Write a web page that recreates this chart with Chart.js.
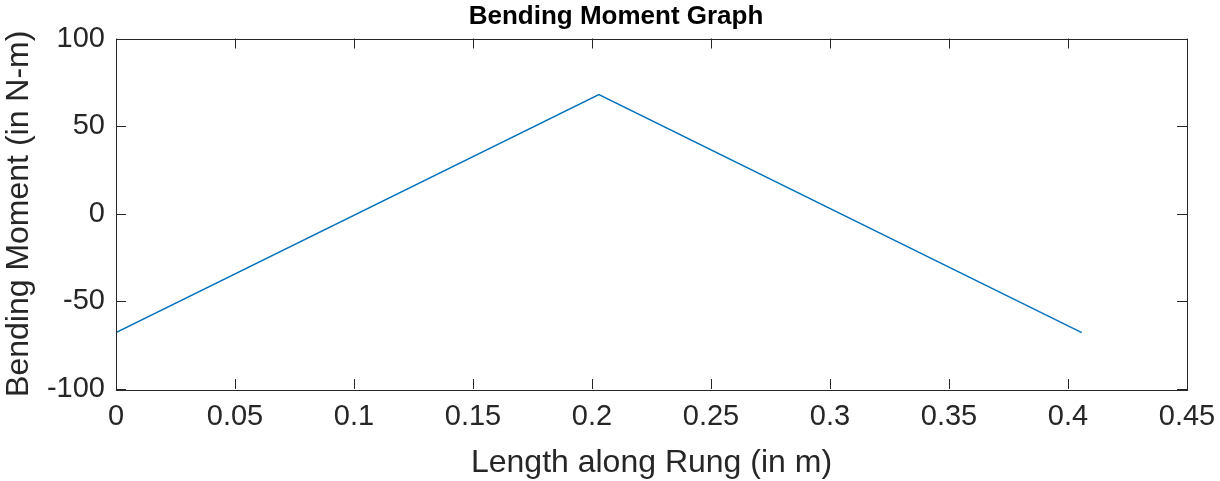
<!DOCTYPE html>
<html>
<head>
<meta charset="utf-8">
<script src="https://cdn.jsdelivr.net/npm/chart.js@4"></script>
<style>
  html, body { margin: 0; padding: 0; background: #fff; }
  #wrap { width: 1220px; height: 481px; }
</style>
</head>
<body>
<div id="wrap"><canvas id="chart" width="1220" height="481"></canvas></div>
<script>
// data
const lengthPts = [0, 0.2029, 0.4058];
const momentPts = [-67.8, 68.0, -67.8];
const xTicks = [0, 0.05, 0.1, 0.15, 0.2, 0.25, 0.3, 0.35, 0.4, 0.45];
const yTicks = [-100, -50, 0, 50, 100];

const axisColor = "#262626";
const fontFam = "'Liberation Sans', Arial, Helvetica, sans-serif";

// box round the plot with inward ticks on all four sides (matlab style)
const boxPlugin = {
  id: "box",
  afterDraw(chart) {
    const ctx = chart.ctx;
    const a = chart.chartArea;
    const xs = chart.scales.x, ys = chart.scales.y;
    const tl = 10;
    ctx.save();
    ctx.strokeStyle = axisColor;
    ctx.lineWidth = 1;
    ctx.strokeRect(Math.round(a.left) + 0.5, Math.round(a.top) + 0.5,
                   Math.round(a.right - a.left), Math.round(a.bottom - a.top));
    ctx.beginPath();
    xTicks.forEach(v => {
      const px = Math.round(xs.getPixelForValue(v)) + 0.5;
      ctx.moveTo(px, a.bottom); ctx.lineTo(px, a.bottom - tl);
      ctx.moveTo(px, a.top); ctx.lineTo(px, a.top + tl);
    });
    yTicks.forEach(v => {
      const py = Math.round(ys.getPixelForValue(v)) + 0.5;
      ctx.moveTo(a.left, py); ctx.lineTo(a.left + tl, py);
      ctx.moveTo(a.right, py); ctx.lineTo(a.right - tl, py);
    });
    ctx.stroke();
    ctx.restore();
  }
};

const ctx = document.getElementById("chart").getContext("2d");
new Chart(ctx, {
  type: "scatter",
  data: {
    datasets: [{
      data: lengthPts.map((x, i) => ({ x: x, y: momentPts[i] })),
      showLine: true,
      borderColor: "#0072BD",
      borderWidth: 1.4,
      pointRadius: 0,
      tension: 0
    }]
  },
  options: {
    responsive: false,
    animation: false,
    layout: { padding: { left: 12, right: 0, top: 0, bottom: 0 } },
    plugins: {
      legend: { display: false },
      tooltip: { enabled: false },
      title: {
        display: true,
        text: "Bending Moment Graph",
        color: "#000",
        font: { family: fontFam, size: 26, weight: "bold", lineHeight: 1.2 },
        padding: { top: 1.5, bottom: 5.8 }
      }
    },
    scales: {
      x: {
        type: "linear",
        min: 0, max: 0.45,
        grid: { display: false, drawTicks: false },
        border: { display: false },
        afterBuildTicks: s => { s.ticks = xTicks.map(v => ({ value: v })); },
        afterFit: s => { s.height = 92; s.paddingLeft = 0; s.paddingRight = 0; },
        ticks: {
          color: axisColor,
          padding: 11,
          maxRotation: 0,
          font: { family: fontFam, size: 29 },
          callback: v => String(Math.round(v * 100) / 100)
        },
        title: {
          display: true,
          text: "Length along Rung (in m)",
          color: axisColor,
          font: { family: fontFam, size: 32, lineHeight: 1.1 },
          padding: { top: 0, bottom: 0 }
        }
      },
      y: {
        min: -100, max: 100,
        grid: { display: false, drawTicks: false },
        border: { display: false },
        afterBuildTicks: s => { s.ticks = yTicks.map(v => ({ value: v })); },
        afterFit: s => { s.width = 104; s.paddingTop = 0; s.paddingBottom = 0; },
        ticks: {
          color: axisColor,
          padding: 11,
          font: { family: fontFam, size: 29 },
          callback: v => String(v)
        },
        title: {
          display: true,
          text: "Bending Moment (in N-m)",
          color: axisColor,
          font: { family: fontFam, size: 32, lineHeight: 1.1 },
          padding: { top: -10, bottom: 0 }
        }
      },
      // empty right-hand axis, only to hold the plot's right edge
      y2: {
        position: "right",
        min: -100, max: 100,
        display: true,
        grid: { display: false, drawTicks: false },
        border: { display: false },
        ticks: { display: false },
        afterFit: s => { s.width = 33; s.paddingTop = 0; s.paddingBottom = 0; }
      }
    }
  },
  plugins: [boxPlugin]
});
</script>
</body>
</html>
